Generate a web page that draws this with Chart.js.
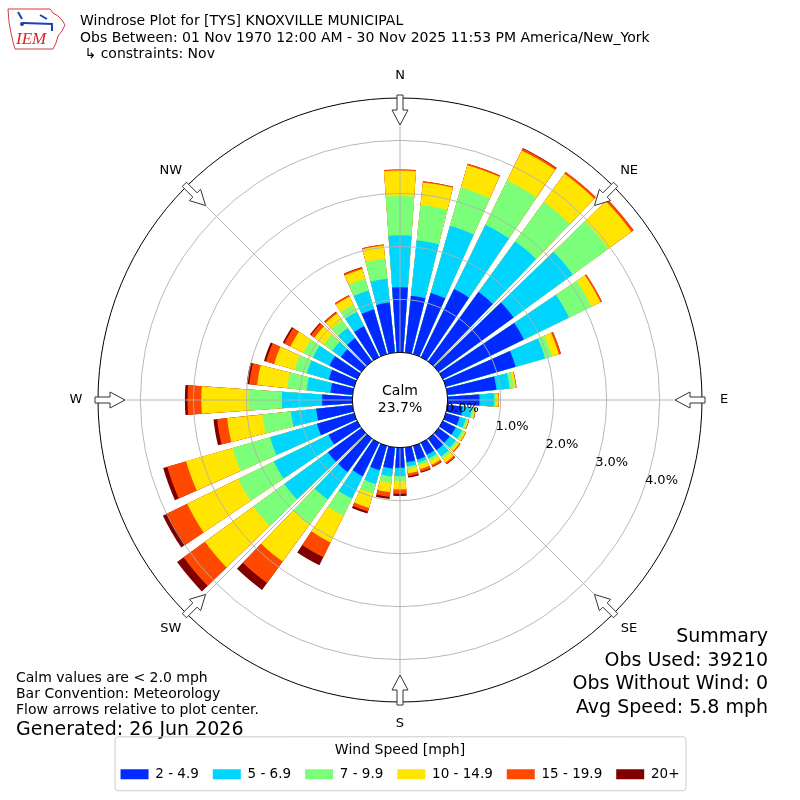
<!DOCTYPE html>
<html>
<head>
<meta charset="utf-8">
<script src="https://cdn.jsdelivr.net/npm/chart.js@4.4.1/dist/chart.umd.min.js"></script>
<style>
  html, body { margin: 0; padding: 0; background: #fff; }
  #wrap { width: 800px; height: 800px; position: relative; }
</style>
</head>
<body>
<div id="wrap"><canvas id="rose"></canvas></div>
<script>
// direction the wind blows from, degrees
const directions = [0, 10, 20, 30, 40, 50, 60, 70, 80, 90, 100, 110, 120, 130, 140, 150, 160, 170,
                    180, 190, 200, 210, 220, 230, 240, 250, 260, 270, 280, 290, 300, 310, 320, 330, 340, 350];
const speedBins = ['2 - 4.9', '5 - 6.9', '7 - 9.9', '10 - 14.9', '15 - 19.9', '20+'];
// percent of obs in each speed bin, per direction
const pct2to5 = [1.23, 1.08, 1.20, 1.43, 1.62, 1.75, 1.70, 1.37, 0.93, 0.60, 0.29, 0.27, 0.27, 0.26, 0.27, 0.25, 0.27, 0.28,
                 0.38, 0.40, 0.48, 0.70, 0.78, 0.78, 0.60, 0.73, 0.69, 0.57, 0.42, 0.50, 0.58, 0.48, 0.54, 0.65, 0.88, 0.95];
const pct5to7 = [0.98, 1.05, 1.32, 1.35, 1.18, 1.38, 0.95, 0.58, 0.25, 0.28, 0.17, 0.12, 0.13, 0.14, 0.15, 0.08, 0.06, 0.08,
                 0.16, 0.15, 0.27, 0.47, 0.64, 1.02, 1.15, 0.92, 0.48, 0.76, 0.45, 0.43, 0.35, 0.20, 0.24, 0.30, 0.37, 0.45];
const pct7to10 = [0.74, 0.67, 0.75, 0.93, 0.92, 0.83, 0.47, 0.13, 0.08, 0.04, 0.05, 0.04, 0.05, 0.04, 0.05, 0.05, 0.05, 0.05,
                  0.09, 0.12, 0.19, 0.36, 0.58, 0.72, 0.75, 0.74, 0.54, 0.63, 0.37, 0.24, 0.20, 0.20, 0.18, 0.15, 0.23, 0.38];
const pct10to15 = [0.48, 0.43, 0.44, 0.63, 0.66, 0.54, 0.19, 0.14, 0.04, 0.04, 0.02, 0.02, 0.03, 0.05, 0.09, 0.08, 0.08, 0.08,
                   0.16, 0.18, 0.28, 0.56, 0.87, 1.13, 1.07, 0.91, 0.67, 0.89, 0.57, 0.40, 0.27, 0.22, 0.16, 0.17, 0.19, 0.25];
const pct15to20 = [0.02, 0.02, 0.03, 0.04, 0.04, 0.05, 0.03, 0.04, 0.01, 0.01, 0.01, 0.01, 0.01, 0.02, 0.03, 0.04, 0.05, 0.05,
                   0.08, 0.09, 0.07, 0.31, 0.50, 0.50, 0.42, 0.37, 0.19, 0.26, 0.15, 0.16, 0.13, 0.08, 0.03, 0.03, 0.03, 0.02];
const pct20plus = [0, 0, 0, 0.01, 0, 0, 0, 0, 0, 0, 0, 0, 0, 0, 0.01, 0.01, 0.02, 0.03,
                   0.04, 0.04, 0.04, 0.17, 0.16, 0.15, 0.09, 0.08, 0.07, 0.05, 0.05, 0.04, 0.03, 0.02, 0.01, 0, 0.01, 0];
const calmPct = 23.7;
const ringTicks = [0, 1, 2, 3, 4];
const compassLabels = ['N', 'NE', 'E', 'SE', 'S', 'SW', 'W', 'NW'];
const headerLines = ['Windrose Plot for [TYS] KNOXVILLE MUNICIPAL',
                     'Obs Between: 01 Nov 1970 12:00 AM - 30 Nov 2025 11:53 PM America/New_York',
                     ' \u21b3 constraints: Nov'];
const noteLines = ['Calm values are < 2.0 mph', 'Bar Convention: Meteorology', 'Flow arrows relative to plot center.'];
const generatedText = 'Generated: 26 Jun 2026';
const summaryLines = ['Summary', 'Obs Used: 39210', 'Obs Without Wind: 0', 'Avg Speed: 5.8 mph'];

const binSeries = [pct2to5, pct5to7, pct7to10, pct10to15, pct15to20, pct20plus];
const binColors = ['#002aff', '#00d5ff', '#7bff7b', '#ffe500', '#ff4900', '#800000'];
const FONT = '"DejaVu Sans", sans-serif';
const barAngle = 8, gapAngle = 2;

// each direction = one bar slot + one empty gap slot
const slotLabels = [];
directions.forEach(d => { slotLabels.push(d + '\u00b0'); slotLabels.push(''); });

// stacked look: draw cumulative totals, smallest on top
const datasets = speedBins.map((name, b) => {
    const data = [];
    directions.forEach((d, i) => {
        let top = 0;
        for (let k = 0; k <= b; k++) top += binSeries[k][i];
        data.push(top);
        data.push(0);
    });
    return {
        label: name,
        data,
        backgroundColor: ctx => ctx.dataIndex % 2 ? 'rgba(0,0,0,0)' : binColors[b],
        borderWidth: 0,
        angle: ctx => ctx.dataIndex % 2 ? gapAngle : barAngle
    };
});

const toXY = (cx, cy, r, deg) => {
    const a = deg * Math.PI / 180;
    return [cx + r * Math.sin(a), cy - r * Math.cos(a)];
};

const drawArrow = (ctx, cx, cy, rMax, deg) => {
    const a = deg * Math.PI / 180;
    const ux = Math.sin(a), uy = -Math.cos(a);
    const px = Math.cos(a), py = Math.sin(a);
    const tail = rMax + 3, neck = rMax - 12, tip = rMax - 27;
    const pts = [[tail, -3], [neck, -3], [neck, -8], [tip, 0], [neck, 8], [neck, 3], [tail, 3]];
    ctx.beginPath();
    pts.forEach(([d, w], i) => {
        const x = cx + ux * d + px * w, y = cy + uy * d + py * w;
        if (i === 0) ctx.moveTo(x, y); else ctx.lineTo(x, y);
    });
    ctx.closePath();
    ctx.fillStyle = '#fff';
    ctx.fill();
    ctx.strokeStyle = '#333';
    ctx.lineWidth = 1;
    ctx.stroke();
};

const roseDecor = {
    id: 'roseDecor',
    afterDatasetsDraw(chart) {
        const ctx = chart.ctx;
        const s = chart.scales.r;
        const cx = s.xCenter, cy = s.yCenter;
        const rad = v => s.getDistanceFromCenterForValue(v);
        const r0 = rad(0), rMax = rad(s.max);
        ctx.save();
        // rings + spokes on top of the bars
        ctx.strokeStyle = '#b0b0b0';
        ctx.lineWidth = 0.9;
        ringTicks.forEach(v => {
            if (v === 0) return;
            ctx.beginPath();
            ctx.arc(cx, cy, rad(v), 0, Math.PI * 2);
            ctx.stroke();
        });
        compassLabels.forEach((lab, i) => {
            const [x1, y1] = toXY(cx, cy, r0, i * 45);
            const [x2, y2] = toXY(cx, cy, rMax, i * 45);
            ctx.beginPath();
            ctx.moveTo(x1, y1);
            ctx.lineTo(x2, y2);
            ctx.stroke();
        });
        // calm circle
        ctx.beginPath();
        ctx.arc(cx, cy, r0, 0, Math.PI * 2);
        ctx.fillStyle = '#fff';
        ctx.fill();
        ctx.strokeStyle = '#000';
        ctx.lineWidth = 1;
        ctx.stroke();
        // outer frame
        ctx.beginPath();
        ctx.arc(cx, cy, rMax, 0, Math.PI * 2);
        ctx.stroke();
        compassLabels.forEach((lab, i) => drawArrow(ctx, cx, cy, rMax, i * 45));

        ctx.fillStyle = '#000';
        ctx.font = '13px ' + FONT;
        ctx.textAlign = 'center';
        ctx.textBaseline = 'middle';
        compassLabels.forEach((lab, i) => {
            const [x, y] = toXY(cx, cy, rMax + 22, i * 45);
            ctx.fillText(lab, x, y);
        });
        ctx.font = '14px ' + FONT;
        ctx.fillText('Calm', cx, cy - 9);
        ctx.fillText(calmPct.toFixed(1) + '%', cx, cy + 8);

        ctx.font = '13px ' + FONT;
        ctx.textAlign = 'left';
        const la = 20 * Math.PI / 180;
        ringTicks.forEach(v => {
            const r = rad(v);
            ctx.fillText(v.toFixed(1) + '%', cx + r * Math.cos(la) + 1, cy + r * Math.sin(la) - 8);
        });
        ctx.restore();
    },
    afterDraw(chart) {
        const ctx = chart.ctx;
        ctx.save();
        // logo
        ctx.strokeStyle = '#d23c3c';
        ctx.lineWidth = 1;
        ctx.beginPath();
        ctx.moveTo(8, 9); ctx.lineTo(50, 9); ctx.lineTo(53, 13); ctx.lineTo(58, 16); ctx.lineTo(62, 20);
        ctx.lineTo(65, 25); ctx.lineTo(62, 31); ctx.lineTo(58, 36); ctx.lineTo(56, 43); ctx.lineTo(53, 49);
        ctx.lineTo(15, 49); ctx.lineTo(13, 42); ctx.lineTo(11, 33); ctx.lineTo(9, 22); ctx.closePath();
        ctx.stroke();
        ctx.strokeStyle = '#1f3fb8';
        ctx.fillStyle = '#1f3fb8';
        ctx.lineWidth = 2;
        ctx.beginPath(); ctx.moveTo(23, 23); ctx.lineTo(53, 24); ctx.stroke();
        ctx.beginPath(); ctx.moveTo(18, 12); ctx.lineTo(22, 19); ctx.stroke();
        ctx.beginPath(); ctx.moveTo(40, 15); ctx.lineTo(47, 19); ctx.stroke();
        ctx.beginPath(); ctx.moveTo(52, 25); ctx.lineTo(52, 31); ctx.stroke();
        ctx.beginPath(); ctx.arc(22, 24, 2, 0, Math.PI * 2); ctx.fill();
        ctx.fillStyle = '#d22';
        ctx.font = 'italic 17px "Liberation Serif", serif';
        ctx.textAlign = 'left';
        ctx.textBaseline = 'alphabetic';
        ctx.fillText('IEM', 16, 44);

        ctx.fillStyle = '#000';
        ctx.font = '14px ' + FONT;
        headerLines.forEach((t, i) => ctx.fillText(t, 80, 25 + i * 16.5));
        noteLines.forEach((t, i) => ctx.fillText(t, 16, 682 + i * 16));
        ctx.font = '19px ' + FONT;
        ctx.fillText(generatedText, 16, 735);
        ctx.textAlign = 'right';
        summaryLines.forEach((t, i) => ctx.fillText(t, 768, 642 + i * 23.7));

        // legend frame
        const lg = chart.legend;
        const hb = lg.legendHitBoxes;
        const left = Math.min(...hb.map(h => h.left)) - 6;
        const right = Math.max(...hb.map(h => h.left + h.width)) + 6;
        const top = lg.top - 5;
        const bottom = hb[0].top + hb[0].height / 2 + 16;
        ctx.strokeStyle = '#cccccc';
        ctx.lineWidth = 1;
        ctx.beginPath();
        ctx.roundRect(left + 0.5, top + 0.5, right - left, bottom - top, 3);
        ctx.stroke();
        ctx.restore();
    }
};

new Chart(document.getElementById('rose'), {
    type: 'polarArea',
    data: { labels: slotLabels, datasets },
    options: {
        responsive: true,
        maintainAspectRatio: false,
        animation: false,
        layout: { padding: { top: 0, left: 0, right: 0, bottom: 9 } },
        scales: {
            r: {
                min: -0.9,
                max: 4.8,
                startAngle: directions[0] - barAngle / 2,
                ticks: { display: false },
                grid: { display: false },
                angleLines: { display: false },
                pointLabels: { display: false },
                afterSetDimensions: s => { s.xCenter = 400; s.yCenter = 400; s.drawingArea = 302; }
            }
        },
        plugins: {
            tooltip: { enabled: false },
            legend: {
                position: 'bottom',
                title: {
                    display: true,
                    text: 'Wind Speed [mph]',
                    color: '#000',
                    font: { family: FONT, size: 14, lineHeight: 0.8 },
                    padding: { top: 2, bottom: -1 }
                },
                labels: {
                    color: '#000',
                    font: { family: FONT, size: 13.5 },
                    boxWidth: 28,
                    boxHeight: 10,
                    padding: 14,
                    generateLabels: chart => chart.data.datasets.map((ds, i) => ({
                        text: ds.label,
                        fillStyle: binColors[i],
                        strokeStyle: binColors[i],
                        lineWidth: 0,
                        hidden: false,
                        datasetIndex: i
                    }))
                }
            }
        }
    },
    plugins: [roseDecor]
});
</script>
</body>
</html>
